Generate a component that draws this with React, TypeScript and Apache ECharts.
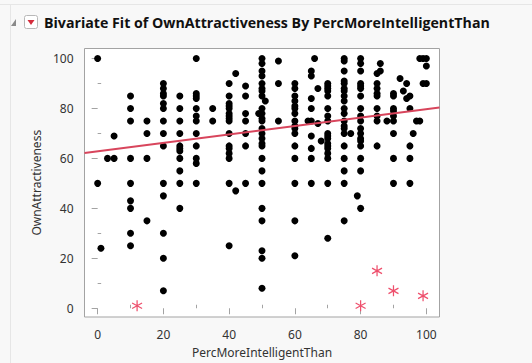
import React, { useEffect, useRef } from "react";
import * as echarts from "echarts";

// ---- data ----
const xMajorTicks = [0, 20, 40, 60, 80, 100];
const xMinorTicks = [10, 30, 50, 70, 90];
const yMajorTicks = [0, 20, 40, 60, 80, 100];
const yMinorTicks = [10, 30, 50, 70, 90];

// PercMoreIntelligentThan value -> OwnAttractiveness values observed at it
const observations: [number, number[]][] = [
  [0, [100, 50]],
  [1, [24]],
  [3, [60]],
  [5, [69, 60]],
  [10, [85, 80, 75, 60, 50, 43, 40, 30, 25]],
  [15, [75, 70, 60, 35]],
  [20, [90, 88, 86, 85, 82, 80, 75, 70, 65, 50, 45, 30, 20, 7]],
  [25, [85, 80, 75, 70, 65, 64, 63, 60, 55, 50, 40]],
  [30, [100, 86, 85, 84, 80, 77, 75, 70, 65, 60, 58, 50]],
  [35, [80, 75]],
  [40, [90, 85, 82, 81, 80, 78, 77, 76, 75, 70, 65, 64, 62, 60, 50, 25]],
  [42, [94, 47]],
  [45, [89, 85, 78, 75, 70, 65, 50]],
  [49, [78]],
  [50, [100, 98, 95, 93, 90, 88, 87, 85, 80, 78, 76, 75, 72, 70, 68, 66, 65, 60, 55, 50, 40, 35, 23, 20, 8]],
  [51, [83]],
  [55, [99, 90, 75]],
  [60, [90, 88, 85, 83, 81, 80, 78, 75, 73, 72, 70, 65, 60, 50, 35, 21]],
  [64, [75]],
  [65, [95, 93, 84, 80, 75, 69, 64, 60, 50]],
  [66, [100]],
  [67, [88, 74]],
  [68, [67]],
  [70, [90, 89, 88, 87, 85, 80, 77, 75, 70, 69, 68, 66, 65, 64, 62, 60, 50, 28]],
  [75, [100, 99, 95, 91, 90, 88, 87, 85, 83, 80, 78, 75, 73, 72, 70, 65, 60, 55, 50, 35]],
  [77, [70]],
  [79, [45]],
  [80, [100, 98, 95, 90, 89, 88, 85, 80, 77, 75, 72, 70, 68, 67, 65, 60, 55, 40]],
  [85, [94, 90, 88, 86, 85, 80, 77, 75, 65]],
  [86, [98, 95]],
  [88, [75]],
  [90, [86, 85, 80, 79, 77, 75, 70, 60, 50]],
  [92, [92]],
  [93, [87]],
  [94, [90, 84]],
  [95, [85, 80, 65, 60, 50]],
  [96, [70]],
  [97, [75]],
  [98, [100, 75]],
  [99, [100, 90]],
  [100, [100, 97, 90]],
];

// excluded rows (drawn as asterisks)
const excludedX = [12, 80, 85, 90, 99];
const excludedY = [1, 1, 15, 7, 5];

// linear fit endpoints
const fitLineX = [-4, 104];
const fitLineY = [62.2, 80.4];

const FONT = "'Noto Sans', 'Open Sans', sans-serif";
const AXIS_GRAY = "#a3a3a3";
const TEXT = "#333";
const RED = "#d8455c";

export default function App() {
  const ref = useRef<HTMLDivElement>(null);
  useEffect(() => {
    if (!ref.current) return;
    const chart = echarts.init(ref.current, null, { renderer: "svg" });

    const dots: number[][] = [];
    observations.forEach(([x, ys]) => ys.forEach((y) => dots.push([x, y])));
    const excluded = excludedX.map((x, i) => [x, excludedY[i]]);
    const fit = fitLineX.map((x, i) => [x, fitLineY[i]]);

    const common = {
      type: "value" as const,
      splitLine: { show: false },
      axisLine: { show: false },
    };

    chart.setOption({
      animation: false,
      backgroundColor: "#f8f8f8",
      grid: {
        left: 84.5,
        right: 92.5,
        top: 48.5,
        bottom: 43.5,
        show: true,
        backgroundColor: "#ffffff",
        borderColor: AXIS_GRAY,
        borderWidth: 1,
      },
      xAxis: [
        {
          ...common,
          min: -4,
          max: 104,
          axisTick: { show: true, customValues: xMajorTicks, length: 6, lineStyle: { color: AXIS_GRAY } },
          axisLabel: { customValues: xMajorTicks, margin: 11, fontSize: 12, color: TEXT, fontFamily: FONT },
          name: "PercMoreIntelligentThan",
          nameLocation: "middle",
          nameGap: 29,
          nameTextStyle: { fontSize: 12, color: TEXT, fontFamily: FONT },
        },
        {
          ...common,
          min: -4,
          max: 104,
          axisTick: { show: true, customValues: xMinorTicks, length: 3.5, lineStyle: { color: AXIS_GRAY } },
          axisLabel: { show: false },
        },
      ],
      yAxis: [
        {
          ...common,
          min: -3.5,
          max: 104,
          axisTick: { show: true, customValues: yMajorTicks, length: 6, lineStyle: { color: AXIS_GRAY } },
          axisLabel: { customValues: yMajorTicks, margin: 11, fontSize: 12, color: TEXT, fontFamily: FONT },
          name: "OwnAttractiveness",
          nameLocation: "middle",
          nameGap: 38,
          nameTextStyle: { fontSize: 12, color: TEXT, fontFamily: FONT },
        },
        {
          ...common,
          min: -3.5,
          max: 104,
          axisTick: { show: true, customValues: yMinorTicks, length: 3.5, lineStyle: { color: AXIS_GRAY } },
          axisLabel: { show: false },
        },
      ],
      series: [
        {
          type: "scatter",
          data: dots,
          symbol: "circle",
          symbolSize: 7,
          itemStyle: { color: "#000", opacity: 1 },
          silent: true,
        },
        {
          type: "line",
          data: fit,
          showSymbol: false,
          lineStyle: { color: RED, width: 2 },
          silent: true,
        },
        {
          type: "scatter",
          data: excluded,
          symbol: "path://M5,0 L5,12 M0,3 L10,9 M0,9 L10,3",
          symbolSize: [10, 11],
          itemStyle: { color: "rgba(0,0,0,0)", borderColor: "#ee4f6c", borderWidth: 1.3, opacity: 1 },
          silent: true,
        },
      ],
      graphic: [
        { type: "line", shape: { x1: 0, y1: 4.5, x2: 532, y2: 4.5 }, style: { stroke: "#e6e6e6", lineWidth: 1 } },
        { type: "line", shape: { x1: 10.5, y1: 4.5, x2: 10.5, y2: 363 }, style: { stroke: "#e6e6e6", lineWidth: 1 } },
        { type: "polygon", shape: { points: [[16, 19], [16, 26], [11, 26]] }, style: { fill: "#8a8a8a" } },
        { type: "rect", shape: { x: 24.5, y: 15.5, width: 13, height: 13, r: 2 }, style: { fill: "#ffffff", stroke: "#b8b8b8", lineWidth: 1 } },
        { type: "polygon", shape: { points: [[27.5, 20], [34.5, 20], [31, 25]] }, style: { fill: "#d42c3b" } },
        {
          type: "text",
          x: 44,
          y: 22.5,
          style: {
            text: "Bivariate Fit of OwnAttractiveness By PercMoreIntelligentThan",
            fontSize: 14.2,
            fontWeight: "bold",
            fontFamily: "'Open Sans', 'Noto Sans', sans-serif",
            fill: "#111",
            verticalAlign: "middle",
            align: "left",
          },
        },
      ],
    });
    return () => chart.dispose();
  }, []);
  return <div ref={ref} style={{ position: "fixed", left: 0, top: 0, width: 532, height: 363 }} />;
}
